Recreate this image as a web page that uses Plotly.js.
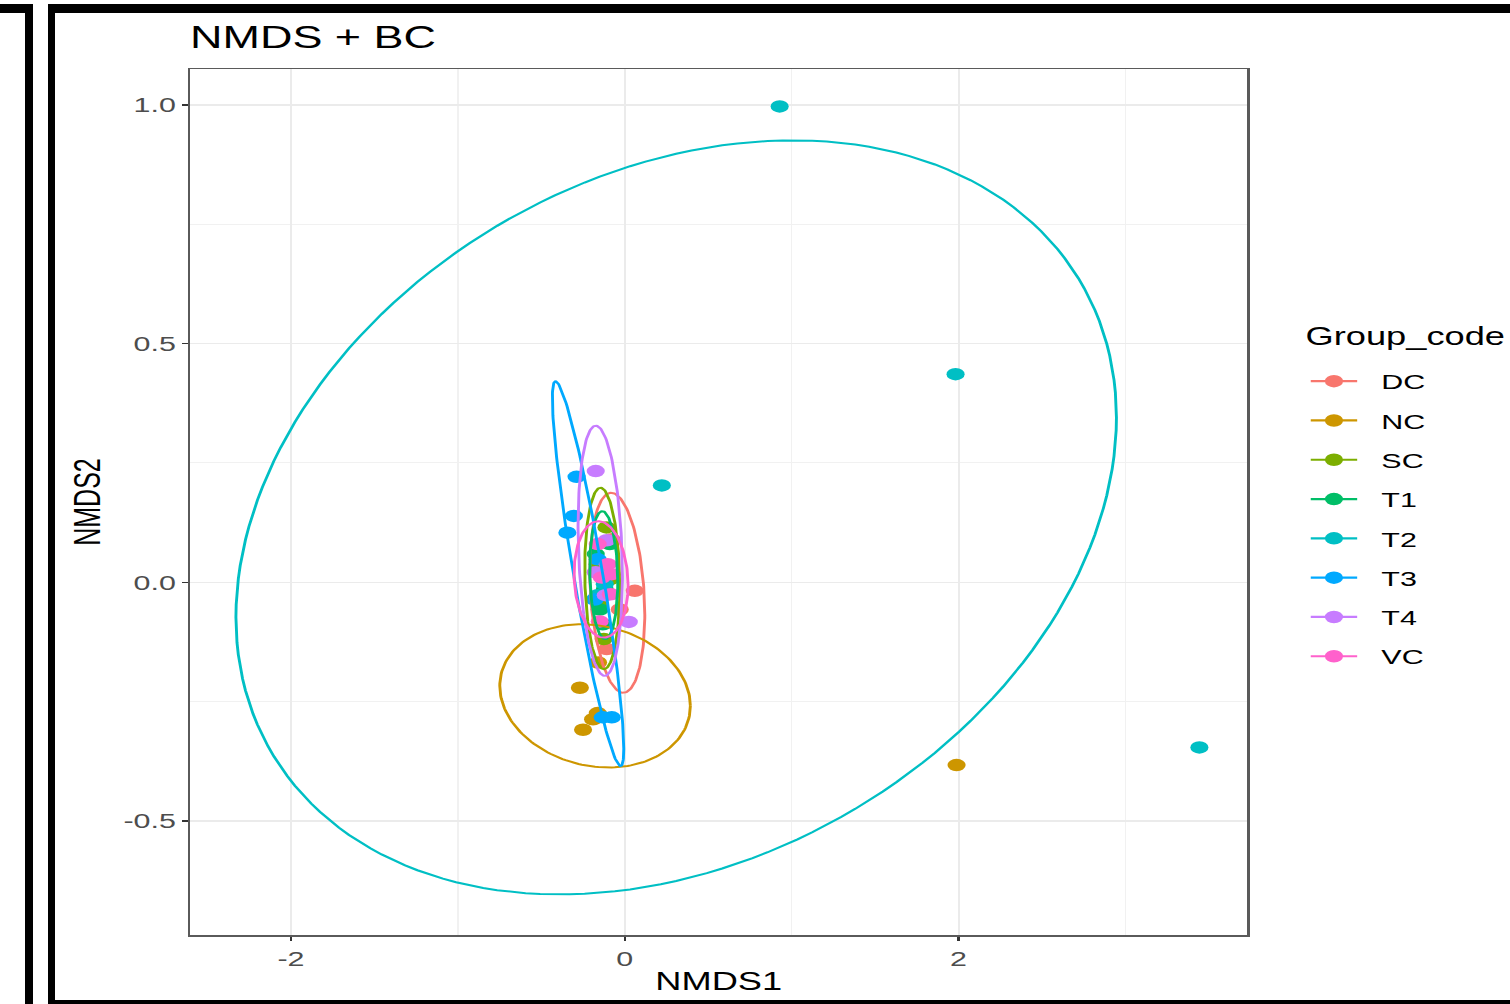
<!DOCTYPE html>
<html><head><meta charset="utf-8">
<script src="https://cdn.plot.ly/plotly-3.0.1.min.js"></script>
<style>
html,body{margin:0;padding:0;background:#fff;overflow:hidden;width:1510px;height:1004px;}
#wrap{position:absolute;left:0;top:0;width:1041px;height:1004px;transform:scaleX(1.45053);transform-origin:0 0;}
#chart{width:1041px;height:1004px;}
.bk{position:absolute;background:#000;z-index:5;}
</style></head><body>
<div id="wrap"><div id="chart"></div></div>
<div class="bk" style="left:0;top:4px;width:33px;height:9px"></div>
<div class="bk" style="left:25px;top:4px;width:8px;height:1000px"></div>
<div class="bk" style="left:48px;top:4px;width:1462px;height:9px"></div>
<div class="bk" style="left:48px;top:4px;width:7px;height:1000px"></div>
<div class="bk" style="left:48px;top:1000px;width:1462px;height:4px"></div>
<script>
// ---- data ----
const groups = ['DC','NC','SC','T1','T2','T3','T4','VC'];
const groupColors = ['#F8766D','#CD9600','#7CAE00','#00BE67','#00BFC4','#00A9FF','#C77CFF','#FF61CC'];
const legendTitle = 'Group_code';

const dcX = [0.060, -0.108, -0.078, -0.030, -0.150];
const dcY = [-0.018, -0.140, 0.090, -0.057, 0.017];
const ncX = [-0.269, -0.190, -0.250, -0.160, -0.162, 1.988];
const ncY = [-0.221, -0.287, -0.309, -0.168, -0.274, -0.383];
const scX = [-0.110, -0.150, -0.126, -0.162, -0.090];
const scY = [0.115, -0.046, -0.119, 0.038, 0.006];
const t1X = [-0.174, -0.120, -0.150, -0.090, -0.132];
const t1Y = [0.059, -0.015, -0.057, 0.080, -0.088];
const t2X = [0.928, 1.982, 0.222, 3.443, -0.162, -0.120];
const t2Y = [0.997, 0.436, 0.203, -0.346, -0.027, -0.004];
const t3X = [-0.289, -0.305, -0.344, -0.078, -0.132, -0.180, -0.162];
const t3Y = [0.221, 0.139, 0.104, -0.283, -0.283, -0.036, 0.048];
const t4X = [-0.174, -0.108, 0.024, -0.174, -0.114];
const t4Y = [0.233, 0.088, -0.083, 0.021, -0.027];
const vcX = [-0.102, -0.138, -0.084, -0.150, -0.162, -0.078];
const vcY = [0.038, 0.010, -0.025, -0.082, 0.080, 0.017];

// 95% ellipses (stat_ellipse): centre, half extent in x and y, tilt (correlation)
const ellCx    = [-0.045, -0.178, -0.135, -0.126, 0.308, -0.220, -0.147, -0.142];
const ellCy    = [-0.022, -0.238, 0.008, 0.015, 0.136, 0.018, 0.066, 0.006];
const ellHalfW = [0.165, 0.571, 0.105, 0.084, 2.638, 0.214, 0.133, 0.162];
const ellHalfH = [0.2095, 0.150, 0.190, 0.134, 0.790, 0.403, 0.262, 0.122];
const ellTilt  = [-0.22, -0.14, -0.10, -0.10, 0.265, -0.91, -0.20, -0.10];

const xTickVals = [-2, 0, 2];
const xTickText = ['-2', '0', '2'];
const xMinorVals = [-1, 1, 3];
const yTickVals = [-0.5, 0, 0.5, 1.0];
const yTickText = ['-0.5', '0.0', '0.5', '1.0'];
const yMinorVals = [-0.25, 0.25, 0.75];

// ---- build traces ----
const ptsX = [dcX, ncX, scX, t1X, t2X, t3X, t4X, vcX];
const ptsY = [dcY, ncY, scY, t1Y, t2Y, t3Y, t4Y, vcY];
const FONT = 'Liberation Sans, Arial, Helvetica, sans-serif';
const NB = '\u00a0\u00a0';
const traces = [];
groups.forEach((g, i) => {
  // isolated points (null between each) so the legend shows line + dot like ggplot
  const xs = [], ys = [];
  ptsX[i].forEach((v, k) => { xs.push(v, null); ys.push(ptsY[i][k], null); });
  traces.push({
    type: 'scatter', mode: 'lines+markers', name: NB + g, legendgroup: g,
    x: xs, y: ys, connectgaps: false,
    marker: {color: groupColors[i], size: 12.5},
    line: {color: groupColors[i], width: 2.2},
    hoverinfo: 'skip'
  });
});
groups.forEach((g, i) => {
  const ex = [], ey = [];
  const n = 180, r = ellTilt[i], q = Math.sqrt(1 - r * r);
  for (let k = 0; k <= n; k++) {
    const t = 2 * Math.PI * k / n;
    ex.push(ellCx[i] + ellHalfW[i] * Math.cos(t));
    ey.push(ellCy[i] + ellHalfH[i] * (r * Math.cos(t) + q * Math.sin(t)));
  }
  traces.push({
    type: 'scatter', mode: 'lines', name: g, legendgroup: g, showlegend: false,
    x: ex, y: ey, line: {color: groupColors[i], width: 2}, hoverinfo: 'skip'
  });
});

const layout = {
  width: 1041, height: 1004,
  paper_bgcolor: '#ffffff', plot_bgcolor: '#ffffff',
  margin: {l: 131, r: 181, t: 69, b: 69},
  font: {family: FONT, color: '#000'},
  title: {text: 'NMDS + BC', x: 0, xref: 'paper', xanchor: 'left', y: 0.963, yref: 'container', yanchor: 'middle',
          font: {size: 31, color: '#000', family: FONT}},
  xaxis: {
    range: [-2.605, 3.731], tickmode: 'array', tickvals: xTickVals, ticktext: xTickText,
    showgrid: true, gridcolor: '#EBEBEB', gridwidth: 1.3, zeroline: false,
    minor: {tickmode: 'array', tickvals: xMinorVals, showgrid: true, gridcolor: '#F1F1F1', gridwidth: 1, ticks: ''},
    showline: true, mirror: true, linecolor: '#5a5a5a', linewidth: 1.5,
    ticks: 'outside', ticklen: 4, tickwidth: 1.5, tickcolor: '#333',
    tickfont: {size: 21, color: '#4D4D4D', family: FONT},
    title: {text: 'NMDS1', font: {size: 25, color: '#000', family: FONT}, standoff: 4},
    automargin: false
  },
  yaxis: {
    range: [-0.739, 1.0754], tickmode: 'array', tickvals: yTickVals, ticktext: yTickText,
    showgrid: true, gridcolor: '#EBEBEB', gridwidth: 1.5, zeroline: false,
    minor: {tickmode: 'array', tickvals: yMinorVals, showgrid: true, gridcolor: '#F1F1F1', gridwidth: 1, ticks: ''},
    showline: true, mirror: true, linecolor: '#5a5a5a', linewidth: 1.5,
    ticks: 'outside', ticklen: 4, tickwidth: 1.5, tickcolor: '#333',
    tickfont: {size: 21, color: '#4D4D4D', family: FONT},
    title: {text: 'NMDS2', font: {size: 25, color: '#000', family: FONT}, standoff: 8},
    automargin: false
  },
  showlegend: true,
  legend: {
    x: 1.053, xanchor: 'left', xref: 'paper', y: 0.6628, yref: 'paper', yanchor: 'top',
    font: {size: 21, color: '#000', family: FONT},
    traceorder: 'grouped', tracegroupgap: 9, itemwidth: 32,
    bgcolor: 'rgba(0,0,0,0)', borderwidth: 0
  },
  annotations: [{
    text: legendTitle, xref: 'paper', yref: 'paper', x: 1.052, y: 0.6917,
    xanchor: 'left', yanchor: 'middle', showarrow: false,
    font: {size: 25, color: '#000', family: FONT}
  }]
};
Plotly.newPlot('chart', traces, layout, {staticPlot: true, displayModeBar: false});
</script>
</body></html>
